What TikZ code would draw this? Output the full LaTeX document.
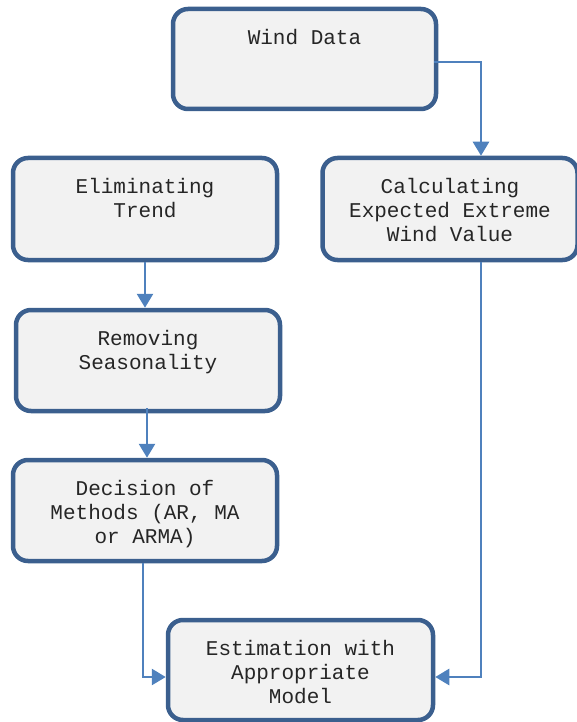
\documentclass[tikz,border=0pt]{standalone}
\usepackage{fontspec}
\setmonofont{Liberation Mono}
\usetikzlibrary{arrows.meta}
\definecolor{boxborder}{HTML}{3B5F8E}
\definecolor{boxfill}{HTML}{F2F2F2}
\definecolor{arrowblue}{HTML}{4F81BD}
\definecolor{txt}{HTML}{262626}
\begin{document}
\begin{tikzpicture}[x=1pt,y=-1pt,
  stepbox/.style={draw=boxborder,fill=boxfill,line width=4.5pt,rounded corners=15pt,inner sep=0pt},
  label/.style={anchor=north,inner sep=0pt,align=center,text=txt,font=\ttfamily\fontsize{21}{24}\selectfont},
  conn/.style={draw=arrowblue,line width=2.7pt,-{Triangle[length=14pt,width=16pt]}}]
\useasboundingbox (0,0) rectangle (577,722);
% boxes
\node[stepbox,minimum width=263pt,minimum height=100pt] (wd) at (304.5,59) {};
\node[stepbox,minimum width=264pt,minimum height=102pt] (et) at (145,209) {};
\node[stepbox,minimum width=255pt,minimum height=102pt] (cv) at (450,209) {};
\node[stepbox,minimum width=264pt,minimum height=101pt] (rs) at (148,360.5) {};
\node[stepbox,minimum width=264pt,minimum height=101pt] (dm) at (145,510.5) {};
\node[stepbox,minimum width=265pt,minimum height=100pt] (em) at (300.5,670) {};
% texts
\node[label] (t1) at ([yshift=-22.5pt]wd.north) {Wind Data};
\node[label] (t2) at ([yshift=-22.5pt]et.north) {Eliminating\\Trend};
\node[label] (t3) at ([yshift=-22.5pt]cv.north) {Calculating\\Expected Extreme\\Wind Value};
\node[label] (t4) at ([yshift=-22.5pt]rs.north) {Removing\\Seasonality};
\node[label] (t5) at ([yshift=-22.5pt]dm.north) {Decision of\\Methods (AR, MA\\or ARMA)};
\node[label] (t6) at ([yshift=-22.5pt]em.north) {Estimation with\\Appropriate\\Model};
% connectors
\coordinate (s1) at ([xshift=-4pt,yshift=-3pt]wd.east);
\draw[conn] (s1) -| ([xshift=31pt]cv.north);
\draw[conn] (et.south) -- (rs.north -| et.south);
\coordinate (s2) at ([xshift=-1pt,yshift=5pt]rs.south);
\draw[conn] (s2) -- (dm.north -| s2);
\coordinate (s3) at ([xshift=-2pt]dm.south);
\draw[conn] (s3) |- ([yshift=-7pt]em.west);
\coordinate (s4) at ([xshift=31pt]cv.south);
\draw[conn] (s4) |- ([yshift=-7pt]em.east);
\end{tikzpicture}
\end{document}
